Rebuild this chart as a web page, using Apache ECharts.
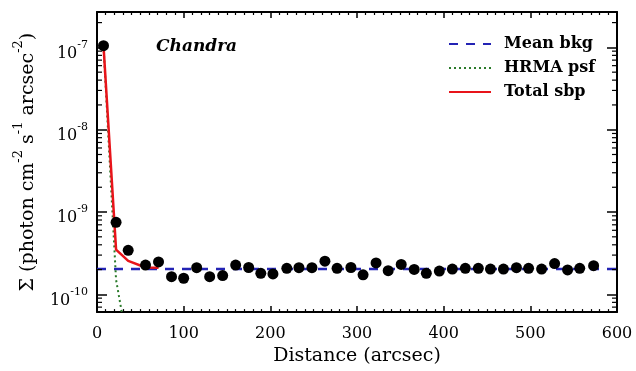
<!DOCTYPE html>
<html>
<head>
<meta charset="utf-8">
<script src="https://cdn.jsdelivr.net/npm/echarts@6/dist/echarts.min.js"></script>
<style>
  html, body { margin: 0; padding: 0; background: #ffffff; }
  #chart { width: 636px; height: 371px; }
</style>
</head>
<body>
<div id="chart"></div>
<script>
// Radial surface-brightness profile (Chandra)
const distance = [7.5, 22, 36, 56, 71, 86, 100, 115, 130, 145,
  160, 175, 189, 203, 219, 233, 248, 263, 277, 293,
  307, 322, 336, 351, 366, 380, 395, 410, 425, 440,
  454, 469, 484, 498, 513, 528, 543, 557, 573];
const surfaceBrightness = [1.05e-7, 7.5e-10, 3.43e-10, 2.27e-10, 2.48e-10, 1.64e-10, 1.57e-10, 2.11e-10, 1.64e-10, 1.69e-10,
  2.27e-10, 2.12e-10, 1.80e-10, 1.77e-10, 2.07e-10, 2.11e-10, 2.11e-10, 2.53e-10, 2.07e-10, 2.12e-10,
  1.73e-10, 2.41e-10, 1.94e-10, 2.31e-10, 2.01e-10, 1.80e-10, 1.92e-10, 2.03e-10, 2.07e-10, 2.07e-10,
  2.03e-10, 2.03e-10, 2.11e-10, 2.07e-10, 2.03e-10, 2.37e-10, 1.98e-10, 2.07e-10, 2.23e-10];

// Mean background level
const bkgX = [0, 600];
const bkgLevel = [2.03e-10, 2.03e-10];

// HRMA point-spread function model
const psfX = [7.5, 22, 36, 56];
const psfModel = [1.05e-7, 1.5e-10, 2.2e-11, 3e-12];

// Total model (psf + background)
const totalX = [7.5, 22, 36, 56, 71];
const totalModel = [1.05e-7, 3.5e-10, 2.55e-10, 2.12e-10, 2.1e-10];

// Axis ranges and ticks
const xMin = 0, xMax = 600, xStep = 100;
const yMin = 6.09e-11, yMax = 2.69e-7;
const yMinorTicks = [
  7e-11, 8e-11, 9e-11,
  2e-10, 3e-10, 4e-10, 5e-10, 6e-10, 7e-10, 8e-10, 9e-10,
  2e-9, 3e-9, 4e-9, 5e-9, 6e-9, 7e-9, 8e-9, 9e-9,
  2e-8, 3e-8, 4e-8, 5e-8, 6e-8, 7e-8, 8e-8, 9e-8,
  2e-7
];

const FONT = 'DejaVu Serif';
const supStyle = { fontFamily: FONT, fontSize: 11, lineHeight: 10, verticalAlign: 'top', color: '#000' };
const baseStyle = { fontFamily: FONT, fontSize: 16, lineHeight: 22, verticalAlign: 'bottom', color: '#000' };
const titleSup = { fontFamily: FONT, fontSize: 13, lineHeight: 12, verticalAlign: 'top', color: '#000' };
const titleBase = { fontFamily: FONT, fontSize: 19, lineHeight: 26, verticalAlign: 'bottom', color: '#000' };

function zip(xs, ys) { return xs.map((x, i) => [x, ys[i]]); }

const chart = echarts.init(document.getElementById('chart'), null, { renderer: 'canvas' });

const frameLine = { show: true, onZero: false, lineStyle: { color: '#000', width: 2 } };

chart.setOption({
  animation: false,
  backgroundColor: '#ffffff',
  grid: { left: 97, right: 19, top: 12, bottom: 54, containLabel: false },
  title: {
    text: 'Chandra',
    left: 151, top: 33,
    textStyle: { fontFamily: FONT, fontSize: 17, fontWeight: 'bold', fontStyle: 'italic', color: '#000' }
  },
  legend: {
    orient: 'vertical',
    left: 443, top: 31,
    itemWidth: 42, itemHeight: 16, itemGap: 8,
    itemStyle: { opacity: 0 },
    data: ['Mean bkg', 'HRMA psf', 'Total sbp'],
    textStyle: { fontFamily: FONT, fontSize: 16, lineHeight: 16, fontWeight: 'bold', color: '#000', padding: [0, 0, 0, 8] }
  },
  xAxis: [{
    type: 'value', position: 'bottom', min: xMin, max: xMax, interval: xStep,
    axisLine: frameLine,
    axisTick: { show: true, inside: true, length: 6, lineStyle: { color: '#000', width: 1.5 } },
    minorTick: { show: true, splitNumber: 10, length: 3, lineStyle: { color: '#000', width: 1.2 } },
    splitLine: { show: false },
    axisLabel: { margin: 14, fontFamily: FONT, fontSize: 16, color: '#000' },
    name: 'Distance (arcsec)', nameLocation: 'middle', nameGap: 32,
    nameTextStyle: { fontFamily: FONT, fontSize: 19, color: '#000' }
  }, {
    type: 'value', position: 'top', min: xMin, max: xMax, interval: xStep,
    axisLine: frameLine,
    axisTick: { show: true, inside: true, length: 6, lineStyle: { color: '#000', width: 1.5 } },
    minorTick: { show: true, splitNumber: 10, length: 3, lineStyle: { color: '#000', width: 1.2 } },
    splitLine: { show: false },
    axisLabel: { show: false }
  }],
  yAxis: [{
    type: 'log', logBase: 10, position: 'left', min: yMin, max: yMax,
    axisLine: frameLine,
    axisTick: { show: true, inside: true, length: 10, lineStyle: { color: '#000', width: 1.5 } },
    splitLine: { show: false },
    axisLabel: {
      margin: 9, showMinLabel: false, showMaxLabel: false,
      padding: [6, 0, 0, 0],
      formatter: function (v) {
        const e = Math.round(Math.log10(v));
        return '{b|10}{s|' + e + '}';
      },
      rich: { b: baseStyle, s: supStyle }
    },
    name: '{b|Σ (photon cm}{s|-2}{b| s}{s|-1}{b| arcsec}{s|-2}{b|)}',
    nameLocation: 'middle', nameRotate: 90, nameGap: 59,
    nameTextStyle: { rich: { b: titleBase, s: titleSup } }
  }, {
    type: 'log', logBase: 10, position: 'right', min: yMin, max: yMax,
    axisLine: frameLine,
    axisTick: { show: true, inside: true, length: 10, lineStyle: { color: '#000', width: 1.5 } },
    splitLine: { show: false },
    axisLabel: { show: false }
  }],
  series: [
    {
      name: 'Mean bkg', type: 'line', data: zip(bkgX, bkgLevel),
      symbol: 'none', z: 2,
      lineStyle: { color: '#2323b4', width: 2.5, type: [9, 8] },
      itemStyle: { color: '#2323b4' }
    },
    {
      name: 'HRMA psf', type: 'line', data: zip(psfX, psfModel),
      symbol: 'none', z: 2,
      lineStyle: { color: '#2a7a2a', width: 2, type: [2, 3] },
      itemStyle: { color: '#2a7a2a' }
    },
    {
      name: 'Total sbp', type: 'line', data: zip(totalX, totalModel),
      symbol: 'none', z: 3,
      lineStyle: { color: '#e8141a', width: 2.5 },
      itemStyle: { color: '#e8141a' }
    },
    {
      name: 'Profile', type: 'scatter', data: zip(distance, surfaceBrightness),
      symbol: 'circle', symbolSize: 11, z: 4,
      itemStyle: { color: '#000', opacity: 1 }
    },
    {
      // minor log ticks (2..9 per decade) on the left and right frame
      name: 'minorTicks', type: 'custom', z: 5, silent: true,
      data: yMinorTicks.map(v => [0, v]),
      renderItem: function (params, api) {
        const cs = params.coordSys;
        const y = api.coord([0, api.value(1)])[1];
        const len = 5;
        return {
          type: 'group',
          children: [
            { type: 'line', shape: { x1: cs.x, y1: y, x2: cs.x + len, y2: y }, style: { stroke: '#000', lineWidth: 1.2 } },
            { type: 'line', shape: { x1: cs.x + cs.width, y1: y, x2: cs.x + cs.width - len, y2: y }, style: { stroke: '#000', lineWidth: 1.2 } }
          ]
        };
      }
    }
  ]
});
</script>
</body>
</html>
